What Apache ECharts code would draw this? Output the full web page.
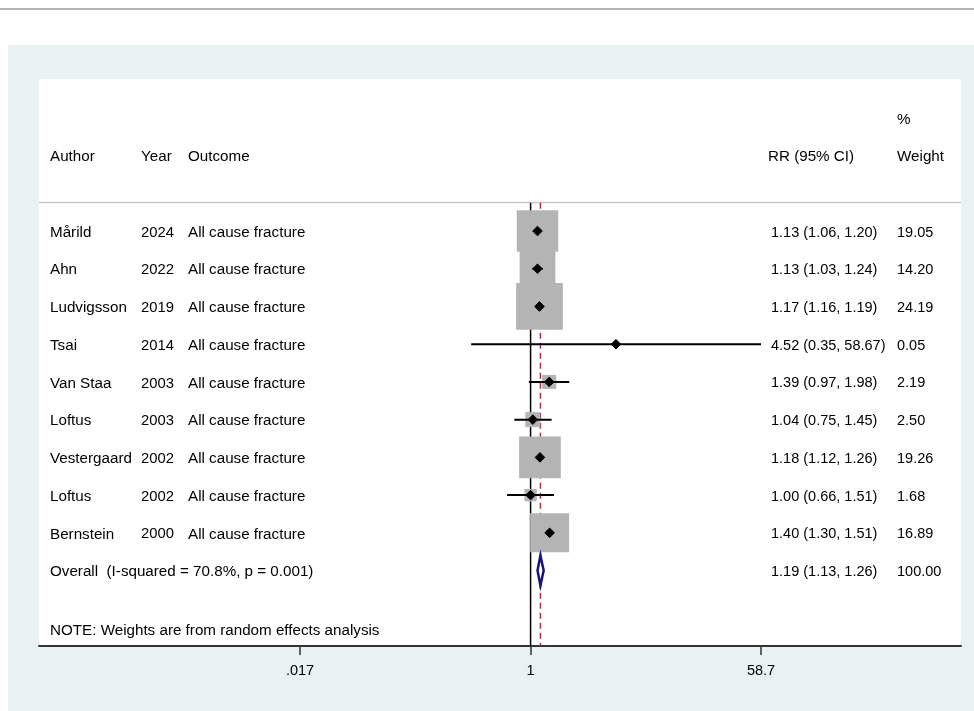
<!DOCTYPE html>
<html>
<head>
<meta charset="utf-8">
<script src="https://cdn.jsdelivr.net/npm/echarts@6/dist/echarts.min.js"></script>
<style>
  html, body { margin: 0; padding: 0; background: #fff; }
  #chart { width: 974px; height: 711px; }
</style>
</head>
<body>
<div id="chart"></div>
<script>
// study rows (top to bottom)
const authors = ['Mårild', 'Ahn', 'Ludvigsson', 'Tsai', 'Van Staa', 'Loftus', 'Vestergaard', 'Loftus', 'Bernstein'];
const years = [2024, 2022, 2019, 2014, 2003, 2003, 2002, 2002, 2000];
const outcomes = ['All cause fracture', 'All cause fracture', 'All cause fracture', 'All cause fracture', 'All cause fracture',
  'All cause fracture', 'All cause fracture', 'All cause fracture', 'All cause fracture'];
const rr = [1.13, 1.13, 1.17, 4.52, 1.39, 1.04, 1.18, 1.00, 1.40];
const lower = [1.06, 1.03, 1.16, 0.35, 0.97, 0.75, 1.12, 0.66, 1.30];
const upper = [1.20, 1.24, 1.19, 58.67, 1.98, 1.45, 1.26, 1.51, 1.51];
const weights = [19.05, 14.20, 24.19, 0.05, 2.19, 2.50, 19.26, 1.68, 16.89];

// pooled estimate
const overallLabel = 'Overall  (I-squared = 70.8%, p = 0.001)';
const overallRR = 1.19;
const overallLower = 1.13;
const overallUpper = 1.26;
const overallWeight = '100.00';
const noteText = 'NOTE: Weights are from random effects analysis';

// x axis ticks
const tickValues = [0.017, 1, 58.7];
const tickLabels = ['.017', '1', '58.7'];

const FONT = '"Liberation Sans", Arial, sans-serif';
const TEXT_SIZE = 15.2; // words
const NUM_SIZE = 14.5;  // numeric columns
const colX = { author: 50, year: 141, outcome: 188, rr: 771, weight: 897 };
const ln = Math.log;
const fmt = (v) => v.toFixed(2);
const overallRow = authors.length;
const headerRow = -2;
const noteRow = 10.55;
const lineTopRow = -0.75;
const bottomRow = 11;

let myChart = echarts.init(document.getElementById('chart'));

const studyData = rr.map((v, i) => [ln(v), ln(lower[i]), ln(upper[i]), weights[i], i]);

// measure text so a long RR string pushes the weight along
const measureCtx = document.createElement('canvas').getContext('2d');
function textWidth(t, size) {
  measureCtx.font = size + 'px ' + FONT;
  return measureCtx.measureText(t).width;
}
function ciText(a, b, c) {
  return fmt(a) + ' (' + fmt(b) + ', ' + fmt(c) + ')';
}
function weightX(rrStr) {
  const end = colX.rr + textWidth(rrStr, NUM_SIZE) + textWidth(' ', NUM_SIZE);
  return Math.max(colX.weight, end);
}

// text table rows: [x, text, size]
const textRows = [];
textRows.push({ row: -3, cells: [[colX.weight, '%', TEXT_SIZE]] });
textRows.push({
  row: headerRow,
  cells: [[colX.author, 'Author', TEXT_SIZE], [colX.year, 'Year', TEXT_SIZE], [colX.outcome, 'Outcome', TEXT_SIZE],
    [colX.rr - 3, 'RR (95% CI)', TEXT_SIZE], [colX.weight, 'Weight', TEXT_SIZE]]
});
authors.forEach((a, i) => {
  const rrStr = ciText(rr[i], lower[i], upper[i]);
  textRows.push({
    row: i,
    cells: [[colX.author, a, TEXT_SIZE], [colX.year, String(years[i]), 14.8], [colX.outcome, outcomes[i], TEXT_SIZE],
      [colX.rr, rrStr, NUM_SIZE], [weightX(rrStr), fmt(weights[i]), NUM_SIZE]]
  });
});
const overallStr = ciText(overallRR, overallLower, overallUpper);
textRows.push({
  row: overallRow,
  cells: [[colX.author, overallLabel, TEXT_SIZE], [colX.rr, overallStr, NUM_SIZE], [weightX(overallStr), overallWeight, NUM_SIZE]]
});
textRows.push({ row: noteRow, cells: [[colX.author, noteText, TEXT_SIZE]] });

function textEl(x, y, t, size) {
  return {
    type: 'text',
    style: { x: x, y: y, text: t, fill: '#000', fontSize: size, fontFamily: FONT, align: 'left', verticalAlign: 'middle' }
  };
}

var option;
option = {
  animation: false,
  graphic: [
    { type: 'rect', z: -100, shape: { x: 8, y: 45, width: 966, height: 666 }, style: { fill: '#e9f1f3' } },
    { type: 'line', z: -100, shape: { x1: 0, y1: 9, x2: 974, y2: 9 }, style: { stroke: '#9a9a9a', lineWidth: 1.5 } },
    { type: 'line', z: 1, shape: { x1: 39, y1: 202.5, x2: 961, y2: 202.5 }, style: { stroke: '#c8c8c8', lineWidth: 1.5 } }
  ],
  grid: {
    left: 39,
    top: 79,
    width: 922,
    height: 567,
    show: true,
    backgroundColor: '#fff',
    borderWidth: 0
  },
  xAxis: {
    type: 'value',
    min: -8.687,
    max: 7.606,
    splitLine: { show: false },
    axisLine: { onZero: false, lineStyle: { color: '#333', width: 2 } },
    axisTick: { customValues: tickValues.map(ln), length: 9, lineStyle: { color: '#333', width: 1.5 } },
    axisLabel: {
      customValues: tickValues.map(ln),
      margin: 17,
      color: '#000',
      fontSize: NUM_SIZE,
      fontFamily: FONT,
      formatter: (val) => {
        let best = 0;
        tickValues.forEach((t, i) => {
          if (Math.abs(ln(t) - val) < Math.abs(ln(tickValues[best]) - val)) best = i;
        });
        return tickLabels[best];
      }
    }
  },
  yAxis: {
    type: 'value',
    inverse: true,
    min: -4.03,
    max: 11,
    show: false
  },
  series: [
    {
      // reference lines: null (solid) and pooled estimate (dashed)
      type: 'custom',
      clip: false,
      z: 2,
      data: [[0, 0], [ln(overallRR), 1]],
      renderItem: (params, api) => {
        const top = api.coord([api.value(0), lineTopRow]);
        const bot = api.coord([api.value(0), bottomRow]);
        const dashed = api.value(1) === 1;
        return {
          type: 'line',
          shape: { x1: top[0], y1: top[1], x2: bot[0], y2: bot[1] },
          style: dashed
            ? { stroke: '#a8323e', lineWidth: 1.5, lineDash: [6, 4] }
            : { stroke: '#000', lineWidth: 1.5 }
        };
      }
    },
    {
      // study boxes, CIs and point estimates
      type: 'custom',
      clip: false,
      z: 3,
      data: studyData,
      renderItem: (params, api) => {
        const row = api.value(4);
        const c = api.coord([api.value(0), row]);
        const lo = api.coord([api.value(1), row]);
        const hi = api.coord([api.value(2), row]);
        const side = Math.sqrt(api.value(3)) * 9.5;
        const d = 4.8;
        return {
          type: 'group',
          children: [
            { type: 'rect', shape: { x: c[0] - side / 2, y: c[1] - side / 2, width: side, height: side }, style: { fill: '#b4b4b4' } },
            { type: 'line', shape: { x1: lo[0], y1: lo[1], x2: hi[0], y2: hi[1] }, style: { stroke: '#000', lineWidth: 2 } },
            {
              type: 'polygon',
              shape: { points: [[c[0] - d, c[1]], [c[0], c[1] - d], [c[0] + d, c[1]], [c[0], c[1] + d]] },
              style: { fill: '#000', stroke: '#000', lineWidth: 1, lineJoin: 'round' }
            }
          ]
        };
      }
    },
    {
      // pooled diamond
      type: 'custom',
      clip: false,
      z: 3,
      data: [[ln(overallRR), ln(overallLower), ln(overallUpper), overallRow]],
      renderItem: (params, api) => {
        const row = api.value(3);
        const c = api.coord([api.value(0), row]);
        const lo = api.coord([api.value(1), row]);
        const hi = api.coord([api.value(2), row]);
        const h = 15;
        return {
          type: 'polygon',
          shape: { points: [[lo[0], c[1]], [c[0], c[1] - h], [hi[0], c[1]], [c[0], c[1] + h]] },
          style: { fill: '#fff', stroke: '#14147a', lineWidth: 2.5 }
        };
      }
    },
    {
      // table text
      type: 'custom',
      clip: false,
      z: 4,
      data: textRows.map((r, i) => [0, r.row, i]),
      renderItem: (params, api) => {
        const r = textRows[api.value(2)];
        const y = api.coord([0, api.value(1)])[1] + 1.5;
        return {
          type: 'group',
          children: r.cells.map((cell) => textEl(cell[0], y, cell[1], cell[2]))
        };
      }
    }
  ]
};
option && myChart.setOption(option);
window.addEventListener('resize', () => {
  myChart.resize();
});
</script>
</body>
</html>
